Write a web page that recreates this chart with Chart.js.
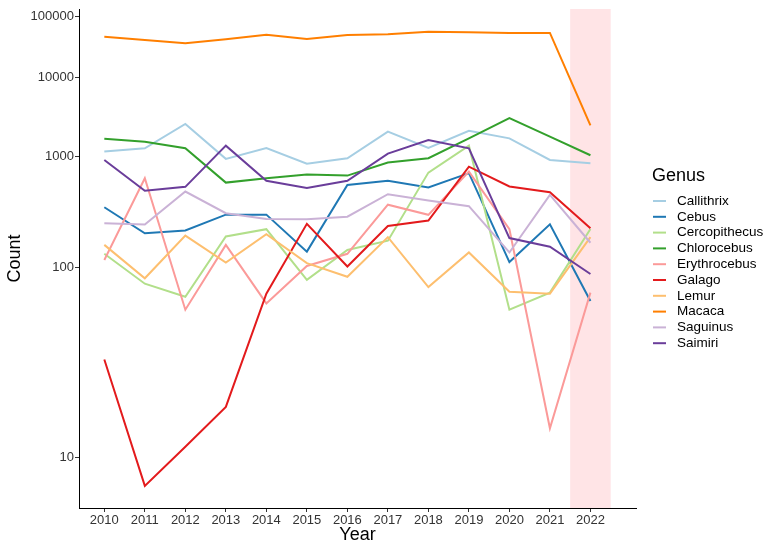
<!DOCTYPE html>
<html>
<head>
<meta charset="utf-8">
<script src="https://cdn.jsdelivr.net/npm/chart.js@4.4.1/dist/chart.umd.min.js"></script>
<style>
  html, body { margin: 0; padding: 0; background: #fff; }
  #wrap { position: relative; width: 766px; height: 541px; }
</style>
</head>
<body>
<div id="wrap"><canvas id="genusChart" width="766" height="541"></canvas></div>
<script>
const years = [2010, 2011, 2012, 2013, 2014, 2015, 2016, 2017, 2018, 2019, 2020, 2021, 2022];
const genera = ['Callithrix', 'Cebus', 'Cercopithecus', 'Chlorocebus', 'Erythrocebus',
                'Galago', 'Lemur', 'Macaca', 'Saguinus', 'Saimiri'];

const callithrix    = [1130, 1230, 2380, 940, 1240, 835, 955, 1920, 1240, 1970, 1600, 915, 845];
const cebus         = [311, 185, 195, 267, 267, 132, 506, 555, 477, 664, 110, 220, 59];
const cercopithecus = [127, 77, 63, 174, 200, 82, 136, 161, 673, 1318, 52, 67, 201];
const chlorocebus   = [1585, 1465, 1230, 533, 590, 643, 627, 857, 955, 1600, 2806, 1675, 1030];
const erythrocebus  = [114, 590, 52, 149, 57, 103, 127, 328, 266, 689, 200, 13, 67];
const galago        = [27, 8, 11, 16, 66, 222, 102, 213, 237, 776, 488, 429, 204];
const lemur         = [149, 84, 177, 109, 182, 108, 86, 172, 73, 130, 68, 66, 172];
const macaca        = [43700, 38400, 33900, 39500, 47300, 40100, 46800, 48100, 53300, 52100, 50700, 50700, 2290];
const saguinus      = [225, 219, 436, 275, 245, 243, 256, 411, 358, 318, 130, 405, 155];
const saimiri       = [914, 443, 484, 1318, 555, 473, 555, 1072, 1531, 1231, 169, 144, 90];

const yTicks = [10, 100, 1000, 10000, 100000];
const highlightYear = 2022;

const seriesValues = [callithrix, cebus, cercopithecus, chlorocebus, erythrocebus,
                      galago, lemur, macaca, saguinus, saimiri];
const colors = ['#A6CEE3', '#1F78B4', '#B2DF8A', '#33A02C', '#FB9A99',
                '#E31A1C', '#FDBF6F', '#FF7F00', '#CAB2D6', '#6A3D9A'];

const FONT = '"Liberation Sans", Arial, sans-serif';

// y axis is log10(log10(count))
const tf = v => Math.log10(Math.log10(v));

class LogLogScale extends Chart.Scale {
    static id = 'loglog';
    static defaults = {};

    determineDataLimits() {
        const { min, max } = this.getMinMax(true);
        this.min = this.options.min ?? min;
        this.max = this.options.max ?? max;
    }

    buildTicks() {
        return yTicks.map(v => ({ value: v }));
    }

    getLabelForValue(value) {
        return String(value);
    }

    configure() {
        super.configure();
        this._tStart = tf(this.min);
        this._tRange = tf(this.max) - this._tStart;
    }

    getPixelForValue(value) {
        if (value === undefined || value === null || isNaN(value) || value <= 1) {
            return NaN;
        }
        return this.getPixelForDecimal((tf(value) - this._tStart) / this._tRange);
    }

    getValueForPixel(pixel) {
        const d = this.getDecimalForPixel(pixel);
        return Math.pow(10, Math.pow(10, this._tStart + d * this._tRange));
    }
}
Chart.register(LogLogScale);

// pink band behind 2022
const bandPlugin = {
    id: 'band',
    beforeDatasetsDraw(chart) {
        const { ctx, chartArea, scales } = chart;
        const x0 = scales.x.getPixelForValue(highlightYear - 0.5);
        const x1 = scales.x.getPixelForValue(highlightYear + 0.5);
        ctx.save();
        ctx.fillStyle = '#FFE4E6';
        ctx.fillRect(x0, chartArea.top, x1 - x0, chartArea.bottom - chartArea.top);
        ctx.restore();
    }
};

// ggplot style legend on the right
const legendPlugin = {
    id: 'genusLegend',
    afterDraw(chart) {
        const ctx = chart.ctx;
        ctx.save();
        ctx.fillStyle = '#000';
        ctx.textBaseline = 'middle';
        ctx.font = '18px ' + FONT;
        ctx.fillText('Genus', 652, 176);
        ctx.font = '13.5px ' + FONT;
        genera.forEach((name, i) => {
            const y = 201 + i * 15.8;
            ctx.strokeStyle = colors[i];
            ctx.lineWidth = 2;
            ctx.beginPath();
            ctx.moveTo(653, y);
            ctx.lineTo(666, y);
            ctx.stroke();
            ctx.fillStyle = '#000';
            ctx.fillText(name, 677, y);
        });
        ctx.restore();
    }
};

const datasets = genera.map((name, i) => ({
    label: name,
    data: years.map((yr, j) => ({ x: yr, y: seriesValues[i][j] })),
    borderColor: colors[i],
    backgroundColor: colors[i],
    borderWidth: 2,
    pointRadius: 0,
    tension: 0,
    fill: false,
    order: genera.length - i
}));

const ctx = document.getElementById('genusChart').getContext('2d');
new Chart(ctx, {
    type: 'line',
    data: { datasets },
    options: {
        responsive: false,
        animation: false,
        layout: { padding: { left: 0, right: 130, top: 9, bottom: 0 } },
        plugins: {
            legend: { display: false },
            tooltip: { enabled: false }
        },
        scales: {
            x: {
                type: 'linear',
                min: 2009.375,
                max: 2023.125,
                afterBuildTicks: s => { s.ticks = years.map(v => ({ value: v })); },
                afterFit: s => { s.height = 33; },
                ticks: {
                    callback: v => String(v),
                    color: '#333',
                    font: { family: FONT, size: 13 },
                    padding: 1,
                    maxRotation: 0,
                    autoSkip: false
                },
                grid: { drawOnChartArea: false, drawTicks: true, tickLength: 4, color: '#333' },
                border: { display: true, color: '#000', width: 1 },
                title: {
                    display: true,
                    text: 'Year',
                    color: '#000',
                    font: { family: FONT, size: 18, lineHeight: 1 },
                    padding: { top: 0, bottom: -3 }
                }
            },
            y: {
                type: 'loglog',
                min: 6.81,
                max: 135900,
                afterFit: s => { s.width = 79; },
                ticks: {
                    callback: v => String(v),
                    color: '#333',
                    font: { family: FONT, size: 13 },
                    padding: 1
                },
                grid: { drawOnChartArea: false, drawTicks: true, tickLength: 4, color: '#333' },
                border: { display: true, color: '#000', width: 1 },
                title: {
                    display: true,
                    text: 'Count',
                    color: '#000',
                    font: { family: FONT, size: 18, lineHeight: 1 },
                    padding: { top: 6, bottom: 0 }
                }
            }
        }
    },
    plugins: [bandPlugin, legendPlugin]
});
</script>
</body>
</html>
